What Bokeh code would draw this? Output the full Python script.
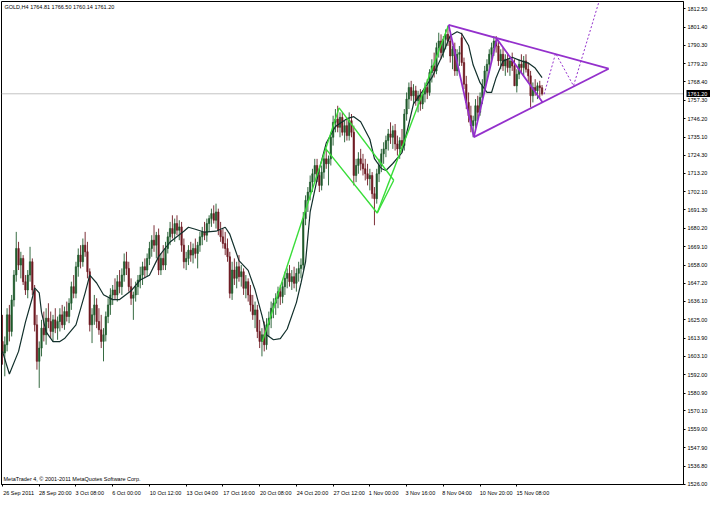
from bokeh.plotting import figure
from bokeh.models import FixedTicker, Label, Span, Range1d, PrintfTickFormatter, ColumnDataSource, LinearAxis
from bokeh.embed import file_html
from bokeh.resources import INLINE

# ---------------- data ----------------
opens = [1612,1605,1610,1628,1618,1637,1652,1668,1658,1662,1648,1643,1652,1660,1643,1622,1600,1608,1620,1616,
         1626,1624,1618,1625,1620,1624,1628,1622,1630,1627,1635,1645,1641,1657,1664,1660,1670,1666,1654,1622,
         1628,1634,1624,1619,1612,1616,1627,1634,1640,1643,1640,1648,1645,1652,1660,1656,1645,1638,1640,1645,
         1649,1652,1657,1655,1662,1668,1673,1670,1676,1655,1662,1658,1668,1675,1680,1677,1683,1679,1681,1670,
         1660,1662,1667,1664,1668,1665,1670,1675,1678,1676,1683,1686,1689,1685,1690,1679,1675,1671,1668,1663,
         1641,1655,1650,1657,1651,1654,1644,1648,1640,1634,1628,1631,1618,1612,1616,1610,1622,1626,1632,1635,
         1638,1642,1639,1645,1650,1653,1648,1651,1647,1653,1656,1658,1686,1697,1702,1708,1713,1718,1712,1706,
         1714,1722,1719,1722,1735,1744,1746,1741,1747,1738,1742,1736,1745,1738,1712,1718,1722,1719,1716,1713,
         1710,1712,1701,1698,1713,1718,1725,1728,1733,1737,1735,1739,1731,1728,1733,1730,1749,1758,1765,1760,
         1763,1757,1760,1755,1761,1765,1762,1774,1778,1775,1789,1793,1786,1794,1797,1793,1784,1788,1775,1785,
         1795,1780,1767,1756,1748,1742,1745,1754,1750,1759,1766,1775,1779,1785,1789,1793,1790,1781,1785,1778,
         1782,1777,1781,1778,1766,1773,1779,1777,1781,1776,1772,1760,1765,1763,1766,1764.81]
highs = [1628,1615,1632,1634,1640,1655,1678,1672,1666,1664,1652,1655,1669,1662,1646,1628,1612,1625,1630,1632,
         1635,1630,1628,1632,1627,1632,1634,1633,1636,1638,1648,1652,1660,1668,1670,1674,1678,1672,1656,1632,
         1640,1638,1632,1628,1620,1630,1638,1644,1646,1650,1652,1655,1656,1665,1666,1660,1650,1642,1648,1652,
         1657,1660,1662,1665,1672,1676,1682,1678,1680,1665,1670,1672,1678,1684,1688,1686,1688,1685,1684,1674,
         1666,1670,1672,1671,1674,1672,1678,1681,1684,1686,1688,1692,1694,1695,1692,1684,1680,1678,1674,1666,
         1660,1662,1660,1664,1658,1656,1652,1650,1646,1640,1636,1634,1625,1620,1624,1626,1630,1636,1638,1641,
         1645,1646,1648,1654,1656,1658,1655,1657,1656,1660,1662,1690,1700,1705,1712,1716,1722,1722,1716,1718,
         1726,1728,1724,1738,1748,1752,1754,1750,1750,1745,1746,1750,1749,1742,1722,1726,1728,1725,1722,1719,
         1716,1714,1705,1716,1722,1728,1732,1736,1740,1744,1742,1743,1736,1735,1740,1752,1762,1768,1769,1767,
         1766,1763,1764,1763,1768,1770,1776,1782,1786,1792,1798,1797,1796,1800,1802,1796,1790,1792,1788,1790,
         1798,1783,1772,1762,1754,1748,1758,1760,1762,1770,1778,1782,1788,1792,1796,1796,1793,1788,1789,1785,
         1786,1784,1786,1782,1776,1782,1785,1784,1785,1780,1775,1768,1770,1768,1769,1766.50]
lows = [1598,1591,1606,1612,1615,1633,1648,1655,1650,1646,1640,1638,1648,1640,1618,1595,1584,1603,1612,1610,
        1620,1614,1612,1617,1613,1618,1620,1619,1624,1623,1631,1638,1638,1651,1656,1657,1663,1650,1618,1611,
        1622,1620,1616,1608,1600,1612,1623,1628,1634,1637,1636,1641,1640,1648,1652,1642,1634,1625,1636,1640,
        1644,1646,1650,1651,1658,1663,1666,1662,1652,1652,1655,1655,1665,1670,1674,1672,1676,1673,1666,1656,
        1655,1658,1660,1659,1662,1656,1666,1670,1673,1672,1678,1681,1683,1680,1676,1672,1668,1664,1660,1638,
        1637,1646,1644,1648,1645,1640,1638,1636,1630,1625,1620,1614,1608,1603,1606,1607,1615,1620,1626,1628,
        1632,1634,1635,1640,1644,1645,1643,1644,1642,1648,1650,1655,1682,1690,1697,1702,1708,1708,1702,1703,
        1710,1716,1706,1718,1730,1738,1738,1735,1736,1732,1733,1733,1735,1706,1708,1713,1715,1712,1709,1706,
        1703,1698,1682,1695,1708,1714,1719,1723,1727,1731,1728,1727,1724,1722,1726,1727,1745,1752,1757,1755,
        1754,1750,1751,1752,1756,1758,1760,1768,1771,1773,1783,1782,1783,1788,1790,1780,1776,1772,1772,1778,
        1778,1764,1752,1744,1738,1735,1740,1746,1748,1755,1762,1769,1774,1780,1784,1786,1778,1776,1775,1772,
        1774,1772,1775,1766,1762,1770,1774,1772,1774,1768,1753,1756,1760,1758,1759,1760.14]
closes = [1605,1610,1628,1618,1637,1652,1668,1658,1662,1648,1643,1652,1660,1643,1622,1600,1608,1620,1616,1626,
          1624,1618,1625,1620,1624,1628,1622,1630,1627,1635,1645,1641,1657,1664,1660,1670,1666,1654,1622,1628,
          1634,1624,1619,1612,1616,1627,1634,1640,1643,1640,1648,1645,1652,1660,1656,1645,1638,1640,1645,1649,
          1652,1657,1655,1662,1668,1673,1670,1676,1655,1662,1658,1668,1675,1680,1677,1683,1679,1681,1670,1660,
          1662,1667,1664,1668,1665,1670,1675,1678,1676,1683,1686,1689,1685,1690,1679,1675,1671,1668,1663,1641,
          1655,1650,1657,1651,1654,1644,1648,1640,1634,1628,1631,1618,1612,1616,1610,1622,1626,1632,1635,1638,
          1642,1639,1645,1650,1653,1648,1651,1647,1653,1656,1658,1686,1697,1702,1708,1713,1718,1712,1706,1714,
          1722,1719,1722,1735,1744,1746,1741,1747,1738,1742,1736,1745,1738,1712,1718,1722,1719,1716,1713,1710,
          1712,1701,1698,1713,1718,1725,1728,1733,1737,1735,1739,1731,1728,1733,1730,1749,1758,1765,1760,1763,
          1757,1760,1755,1761,1765,1762,1774,1778,1775,1789,1793,1786,1794,1797,1793,1784,1788,1775,1785,1786,
          1780,1767,1756,1748,1742,1745,1754,1750,1759,1766,1775,1779,1785,1789,1793,1790,1781,1785,1778,1782,
          1777,1781,1778,1766,1773,1779,1777,1781,1776,1772,1760,1765,1763,1766,1764.81,1761.20]

# moving average, read at selected bars
ma_bar = [0,3,7,10,13,14,16,17,19,22,25,27,32,36,38,41,44,48,51,56,60,64,68,73,79,81,84,88,93,97,99,103,107,
          110,113,115,118,121,124,128,130,132,134,138,141,145,150,153,156,160,162,165,167,170,174,177,179,182,
          187,191,195,198,200,203,205,208,211,213,215,218,222,225,229,232,235]
ma_val = [1606,1592.4,1606,1623.6,1638.3,1644.3,1641.3,1629.5,1617.8,1611.9,1611.9,1613.7,1622,1641.3,1651.9,
          1647.2,1640.1,1637.2,1637.2,1642.5,1649,1651.9,1663.1,1671.9,1678.4,1680.8,1679.6,1677.8,1678.4,1680.8,
          1676.6,1660.7,1654.8,1643.1,1627.7,1616,1613,1613.7,1619.5,1635.4,1647.2,1660,1690,1716,1731.5,1741.5,
          1746.2,1747.4,1744.4,1733.8,1722.1,1716.2,1715,1719.2,1725.7,1743.3,1755.1,1760.9,1770.9,1782.6,1796.2,
          1798.6,1797.4,1790.3,1778.5,1767.9,1762,1762,1770.9,1780.9,1783.2,1781.5,1779.7,1776.7,1770.9]

# green pattern (bar, price)
green_leg1_bar = [113.2, 146.6]
green_leg1_price = [1611.9, 1752.7]
green_flag_top_bar = [146.6, 170.4]
green_flag_top_price = [1752.7, 1709.1]
green_flag_bot_bar = [140.5, 163.2, 170.4]
green_flag_bot_price = [1728.6, 1689.4, 1709.1]
green_leg2_bar = [163.2, 194.3]
green_leg2_price = [1689.4, 1802.7]

# purple triangle (bar, price)
wave_bar = [194.3, 205.3, 215.3, 235.2]
wave_price = [1802.7, 1735.1, 1794.4, 1756.1]
tri_top_bar = [194.3, 264.0]
tri_top_price = [1802.7, 1776.3]
tri_bot_bar = [205.3, 264.0]
tri_bot_price = [1735.1, 1776.3]
proj_bar = [235.9, 240.9, 248.7, 260.7]
proj_price = [1760.9, 1785.6, 1766.0, 1820.9]

current_price = 1761.20
price_ticks = [1812.50, 1801.40, 1790.30, 1779.20, 1768.40, 1757.30, 1746.20, 1735.10, 1724.30, 1713.20,
               1702.10, 1691.30, 1680.20, 1669.10, 1658.00, 1647.20, 1636.10, 1625.00, 1613.90, 1603.10,
               1592.00, 1580.90, 1570.10, 1559.00, 1547.90, 1536.80, 1526.00]
time_ticks = [0, 16, 32, 48, 64, 80, 96, 112, 128, 144, 160, 176, 192, 208, 224]
time_labels = ["26 Sep 2011", "28 Sep 20:00", "3 Oct 08:00", "6 Oct 00:00", "10 Oct 12:00", "13 Oct 04:00",
               "17 Oct 16:00", "20 Oct 08:00", "24 Oct 20:00", "27 Oct 12:00", "1 Nov 00:00", "3 Nov 16:00",
               "8 Nov 04:00", "10 Nov 20:00", "15 Nov 08:00"]
title_text = "GOLD,H4  1764.81 1766.50 1760.14 1761.20"
copyright_text = "MetaTrader 4, \u00a9 2001-2011 MetaQuotes Software Corp."

# ---------------- figure ----------------
FONT = "Liberation Sans"
FS = "5.5px"
X0, X1 = -0.43, 296.6
Y0, Y1 = 1525.8, 1816.8

p = figure(width=710, height=498, output_backend="svg", toolbar_location=None,
           x_range=Range1d(X0, X1), y_range=Range1d(Y0, Y1), y_axis_location="right",
           min_border_left=1, min_border_top=1, min_border_right=0, min_border_bottom=0)
p.background_fill_color = "white"
p.border_fill_color = "white"
p.outline_line_color = "black"
p.outline_line_width = 1
p.grid.visible = False

# price axis
p.yaxis.ticker = FixedTicker(ticks=price_ticks)
p.yaxis.formatter = PrintfTickFormatter(format="%.2f")
p.yaxis.major_label_text_font = FONT
p.yaxis.major_label_text_font_size = FS
p.yaxis.major_label_text_color = "black"
p.yaxis.major_tick_out = 2
p.yaxis.major_tick_in = 0
p.yaxis.minor_tick_out = 0
p.yaxis.minor_tick_in = 0
p.yaxis.major_label_standoff = 2
p.yaxis.axis_line_color = "black"

# time axis: tick marks at the label starts (minor ticks), texts to their right
label_shift = [7, 7, 6, 6, 7, 7, 7, 7, 7, 7, 6, 6, 6, 7, 7]
label_pos = [t + s for t, s in zip(time_ticks, label_shift)]
p.xaxis.ticker = FixedTicker(ticks=label_pos, minor_ticks=time_ticks)
p.xaxis.major_label_overrides = {pos: lab for pos, lab in zip(label_pos, time_labels)}
p.xaxis.major_label_text_font = FONT
p.xaxis.major_label_text_font_size = FS
p.xaxis.major_label_text_color = "black"
p.xaxis.major_label_standoff = 3
p.xaxis.major_tick_out = 0
p.xaxis.major_tick_in = 0
p.xaxis.minor_tick_out = 2
p.xaxis.minor_tick_in = 0
p.xaxis.minor_tick_line_color = "black"
p.xaxis.axis_line_color = "black"

# current price marker on the price scale (black box, white text)
box_axis = LinearAxis(ticker=FixedTicker(ticks=[current_price]),
                      formatter=PrintfTickFormatter(format="%.2f"),
                      axis_line_color=None, major_tick_in=24, major_tick_out=0,
                      major_tick_line_color="black", major_tick_line_width=7,
                      minor_tick_in=0, minor_tick_out=0,
                      major_label_standoff=-23, major_label_text_color="white",
                      major_label_text_font=FONT, major_label_text_font_size=FS)
p.add_layout(box_axis, "right")

p.add_layout(Span(location=current_price, dimension="width", line_color="#c4c4c4", line_width=1,
                  level="underlay"))

# candles
bars = list(range(len(closes)))
bull = [c >= o for o, c in zip(opens, closes)]
colors = ["#1f5a2c" if b else "#6e1a22" for b in bull]
src = ColumnDataSource(dict(
    x=bars, o=opens, h=highs, l=lows, c=closes,
    top=[max(o, c) for o, c in zip(opens, closes)],
    bottom=[min(o, c) for o, c in zip(opens, closes)],
    color=colors))
p.segment(x0="x", y0="l", x1="x", y1="h", source=src, line_color="color", line_width=0.9)
p.vbar(x="x", top="top", bottom="bottom", width=0.62, source=src, fill_color="color",
       line_color="color", line_width=0.6)

# moving average
p.line(ma_bar, ma_val, line_color="#12302c", line_width=1.2)

# green flag pattern
G = "#39dd39"
for xs, ys in [(green_leg1_bar, green_leg1_price), (green_flag_top_bar, green_flag_top_price),
               (green_flag_bot_bar, green_flag_bot_price), (green_leg2_bar, green_leg2_price)]:
    p.line(xs, ys, line_color=G, line_width=1.4)

# purple triangle
P = "#9430cc"
p.line(wave_bar, wave_price, line_color=P, line_width=1.8)
p.line(tri_top_bar, tri_top_price, line_color=P, line_width=1.8)
p.line(tri_bot_bar, tri_bot_price, line_color=P, line_width=1.8)
p.line(proj_bar, proj_price, line_color=P, line_width=1, line_dash="2 2")

# texts inside the chart
p.add_layout(Label(x=X0, y=Y1, x_offset=3, y_offset=-5, text=title_text, text_font=FONT,
                   text_font_size=FS, text_baseline="middle", text_align="left", text_color="black"))
p.add_layout(Label(x=X0, y=Y0, x_offset=2, y_offset=6, text=copyright_text, text_font=FONT,
                   text_font_size=FS, text_baseline="middle", text_align="left", text_color="black"))

open("out.html", "w").write(file_html(p, INLINE))
